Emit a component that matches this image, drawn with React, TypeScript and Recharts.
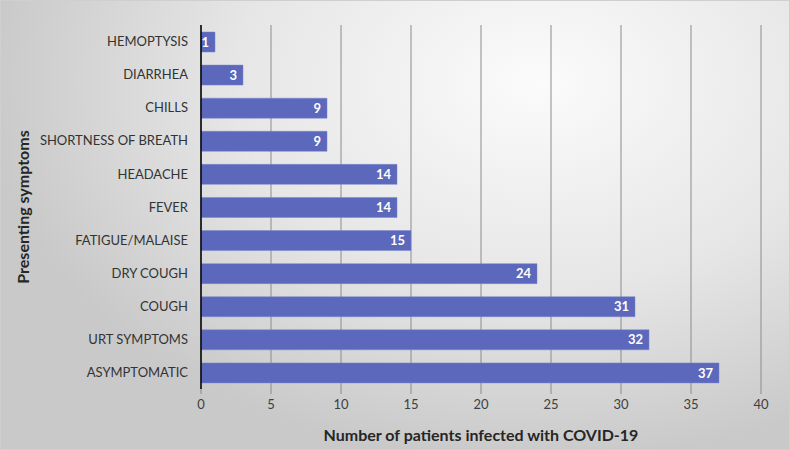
import { BarChart, Bar, XAxis, YAxis, CartesianGrid, LabelList, Label } from 'recharts';

const symptoms = [
  'HEMOPTYSIS',
  'DIARRHEA',
  'CHILLS',
  'SHORTNESS OF BREATH',
  'HEADACHE',
  'FEVER',
  'FATIGUE/MALAISE',
  'DRY COUGH',
  'COUGH',
  'URT SYMPTOMS',
  'ASYMPTOMATIC',
];
const patients = [1, 3, 9, 9, 14, 14, 15, 24, 31, 32, 37];
const xTicks = [0, 5, 10, 15, 20, 25, 30, 35, 40];

const data = symptoms.map((name, i) => ({ name, patients: patients[i] }));

const font = 'Lato, "Open Sans", sans-serif';

export default function App() {
  return (
    <div
      style={{
        position: 'absolute',
        left: 0,
        top: 0,
        width: 788,
        height: 448,
        border: '1px solid #cfcfcf',
        background: 'radial-gradient(ellipse 70% 85% at 68% 18%, #fbfbfb 0%, #e6e6e6 55%, #c9c9c9 100%)',
        fontFamily: font,
      }}
    >
      <BarChart
        width={788}
        height={448}
        data={data}
        layout="vertical"
        margin={{ top: 24, right: 28, left: 0, bottom: 4 }}
      >
        <CartesianGrid horizontal={false} stroke="#8c8c8c" />
        <XAxis
          type="number"
          domain={[0, 40]}
          ticks={xTicks}
          height={56}
          axisLine={false}
          tickLine={{ stroke: '#8c8c8c' }}
          tickSize={5}
          tickMargin={6}
          tick={{ fill: '#404040', fontSize: 13, fontFamily: font }}
        >
          <Label
            value="Number of patients infected with COVID-19"
            position="insideBottom"
            offset={4}
            style={{ fill: '#262626', fontSize: 16, fontWeight: 'bold', fontFamily: font }}
          />
        </XAxis>
        <YAxis
          type="category"
          dataKey="name"
          width={200}
          axisLine={{ stroke: '#000', strokeWidth: 1.5 }}
          tickLine={false}
          tickSize={0}
          tickMargin={13}
          interval={0}
          tick={{ fill: '#333333', fontSize: 13, fontFamily: font }}
        >
          <Label
            value="Presenting symptoms"
            angle={-90}
            position="insideLeft"
            offset={22}
            style={{ textAnchor: 'middle', fill: '#262626', fontSize: 16, fontWeight: 'bold', fontFamily: font }}
          />
        </YAxis>
        <Bar
          dataKey="patients"
          fill="#5b68bb"
          stroke="#7b86cc"
          strokeWidth={0.5}
          barSize={20}
          isAnimationActive={false}
        >
          <LabelList
            dataKey="patients"
            position="insideRight"
            offset={6}
            fill="#ffffff"
            style={{ fontSize: 13, fontWeight: 'bold', fontFamily: font }}
          />
        </Bar>
      </BarChart>
    </div>
  );
}
